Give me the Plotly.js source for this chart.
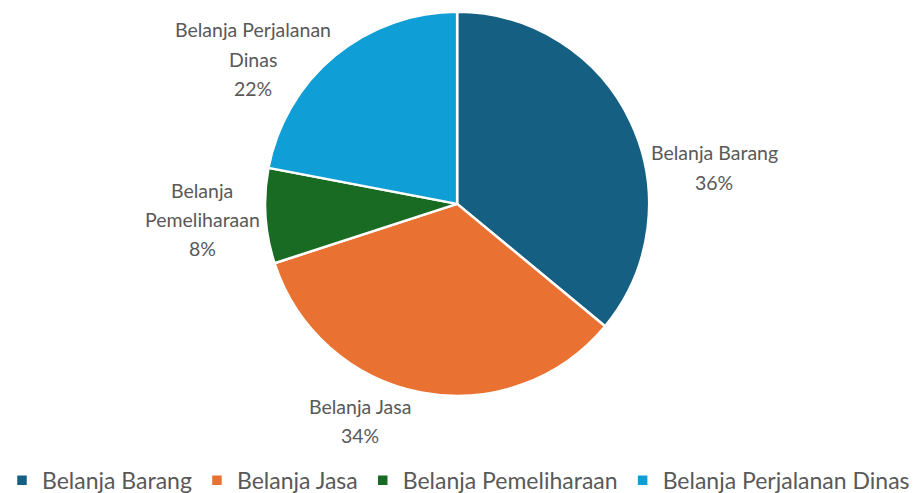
<!DOCTYPE html>
<html>
<head>
<meta charset="utf-8">
<script src="https://cdn.plot.ly/plotly-3.0.1.min.js"></script>
<style>html,body{margin:0;padding:0;background:#fff;}#chart{width:917px;height:493px;}</style>
</head>
<body>
<div id="chart"></div>
<script>
const categories = ["Belanja Barang", "Belanja Jasa", "Belanja Pemeliharaan", "Belanja Perjalanan Dinas"];
const labelLines = [["Belanja Barang"], ["Belanja Jasa"], ["Belanja", "Pemeliharaan"], ["Belanja Perjalanan", "Dinas"]];
const shares = [36, 34, 8, 22];
const colors = ["#156082", "#E97132", "#196B24", "#0F9ED5"];

// label placement (pixel position of first line center), layout only
const labelPos = [[714, 153], [360, 406], [202, 190], [253, 30]];
const lineStep = 29.5;
const W = 917, H = 493;

const annotations = [];
labelLines.forEach((lines, i) => {
  const all = lines.concat([shares[i] + "%"]);
  all.forEach((t, k) => {
    annotations.push({
      text: t, showarrow: false, xref: "paper", yref: "paper",
      x: labelPos[i][0] / W, y: 1 - (labelPos[i][1] + k * lineStep) / H,
      xanchor: "center", yanchor: "middle",
      font: {family: "Lato, sans-serif", size: 19.5, color: "#595959"}
    });
  });
});

const trace = {
  type: "pie",
  labels: categories,
  values: shares,
  textinfo: "none",
  marker: {colors: colors, line: {color: "#ffffff", width: 2.5}},
  sort: false,
  direction: "clockwise",
  rotation: 0,
  hoverinfo: "label+percent",
  domain: {x: [0.289, 0.708], y: [0.197, 0.976]},
  automargin: false
};

const layout = {
  width: W, height: H,
  margin: {l: 0, r: 0, t: 0, b: 0, autoexpand: false},
  paper_bgcolor: "#ffffff",
  showlegend: true,
  annotations: annotations,
  legend: {
    orientation: "h", x: 0.5, xanchor: "center", y: 0.026, yanchor: "middle",
    font: {family: "Lato, sans-serif", size: 23, color: "#595959"},
    itemwidth: 30, tracegroupgap: 0
  }
};

Plotly.newPlot("chart", [trace], layout, {displayModeBar: false, staticPlot: true});
</script>
</body>
</html>
